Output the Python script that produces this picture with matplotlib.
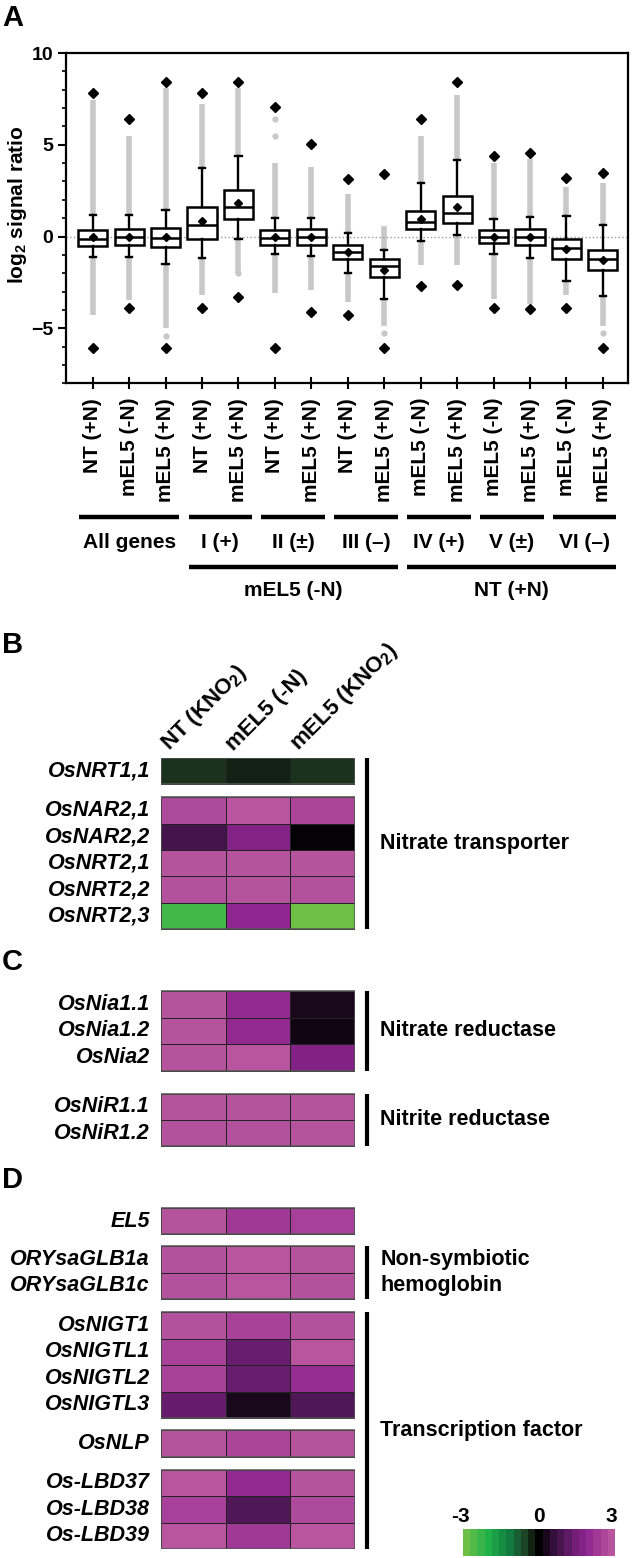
import numpy as np
import matplotlib
matplotlib.use("Agg")
from matplotlib import pyplot as plt
from matplotlib.colors import LinearSegmentedColormap, Normalize
from matplotlib.patches import Rectangle
from matplotlib.ticker import MultipleLocator
import matplotlib.transforms as mtransforms

plt.rcParams["font.family"] = "Liberation Sans"
plt.rcParams["font.weight"] = "bold"
plt.rcParams["mathtext.fontset"] = "custom"
plt.rcParams["mathtext.rm"] = "Liberation Sans:bold"
plt.rcParams["mathtext.bf"] = "Liberation Sans:bold"
plt.rcParams["mathtext.it"] = "Liberation Sans:bold:italic"

# ---- panel A data ----
box_labels = ["NT (+N)", "mEL5 (-N)", "mEL5 (+N)", "NT (+N)", "mEL5 (+N)",
              "NT (+N)", "mEL5 (+N)", "NT (+N)", "mEL5 (+N)", "mEL5 (-N)",
              "mEL5 (+N)", "mEL5 (-N)", "mEL5 (+N)", "mEL5 (-N)", "mEL5 (+N)"]
q1 = [-0.51, -0.45, -0.56, -0.16, 0.95, -0.45, -0.49, -1.22, -2.22, 0.40, 0.75, -0.38, -0.49, -1.24, -1.82]
med = [-0.13, -0.02, -0.06, 0.60, 1.60, -0.10, -0.05, -0.82, -1.60, 0.78, 1.27, -0.02, -0.02, -0.65, -1.22]
q3 = [0.37, 0.40, 0.49, 1.60, 2.51, 0.35, 0.42, -0.44, -1.25, 1.38, 2.18, 0.37, 0.42, -0.16, -0.73]
whislo = [-1.10, -1.10, -1.49, -1.15, -0.13, -0.96, -1.05, -2.00, -3.40, -0.22, 0.09, -0.94, -1.15, -2.45, -3.22]
whishi = [1.18, 1.18, 1.42, 3.76, 4.36, 1.00, 1.00, 0.18, -0.76, 2.91, 4.18, 0.93, 1.06, 1.13, 0.60]
means = [-0.05, 0.0, -0.05, 0.86, 1.82, -0.05, -0.05, -0.85, -1.82, 0.98, 1.60, -0.02, -0.02, -0.68, -1.29]
vmax = [7.82, 6.42, 8.42, 7.82, 8.42, 7.06, 5.02, 3.15, 3.38, 6.42, 8.42, 4.38, 4.56, 3.20, 3.47]
vmin = [-6.05, -3.90, -6.05, -3.87, -3.27, -6.05, -4.13, -4.27, -6.05, -2.69, -2.65, -3.89, -3.96, -3.89, -6.05]
# extent of the dense grey outlier streaks
gray_hi = [7.45, 5.5, 8.1, 7.2, 8.1, 4.0, 3.8, 2.3, 0.58, 5.5, 7.73, 4.0, 4.2, 2.7, 2.9]
gray_lo = [-4.3, -3.45, -5.0, -3.2, -2.0, -3.1, -2.9, -3.55, -4.9, -1.54, -1.54, -3.43, -3.7, -3.2, -4.9]
# a few isolated grey points
iso_pos = [6, 6, 3, 9, 15, 5]
iso_val = [5.45, 6.4, -5.4, -5.27, -5.27, -2.0]

group_names = ["All genes", "I (+)", "II (\u00b1)", "III (\u2013)", "IV (+)", "V (\u00b1)", "VI (\u2013)"]
group_spans = [(1, 3), (4, 5), (6, 7), (8, 9), (10, 11), (12, 13), (14, 15)]
super_names = ["mEL5 (-N)", "NT (+N)"]
super_spans = [(4, 9), (10, 15)]

# ---- panels B-D data ----
col_labels = ["NT (KNO$_\\mathbf{2}$)", "mEL5 (-N)", "mEL5 (KNO$_\\mathbf{2}$)"]

genes_b1 = ["OsNRT1,1"]
vals_b1 = [[-0.42, -0.28, -0.40]]
genes_b2 = ["OsNAR2,1", "OsNAR2,2", "OsNRT2,1", "OsNRT2,2", "OsNRT2,3"]
vals_b2 = [[2.75, 3.0, 2.65], [0.85, 1.8, 0.05], [2.95, 2.95, 2.95], [2.9, 2.95, 2.9], [-2.5, 2.0, -3.0]]
genes_c1 = ["OsNia1.1", "OsNia1.2", "OsNia2"]
vals_c1 = [[2.95, 2.05, 0.3], [2.95, 2.05, 0.2], [2.95, 3.0, 1.75]]
genes_c2 = ["OsNiR1.1", "OsNiR1.2"]
vals_c2 = [[2.95, 2.95, 2.95], [2.9, 2.9, 2.95]]
genes_d1 = ["EL5"]
vals_d1 = [[2.95, 2.4, 2.55]]
genes_d2 = ["ORYsaGLB1a", "ORYsaGLB1c"]
vals_d2 = [[2.9, 3.0, 2.95], [2.9, 3.0, 2.9]]
genes_d3 = ["OsNIGT1", "OsNIGTL1", "OsNIGTL2", "OsNIGTL3"]
vals_d3 = [[2.9, 2.6, 2.9], [2.6, 1.35, 3.0], [2.6, 1.35, 2.15], [1.3, 0.3, 1.0]]
genes_d4 = ["OsNLP"]
vals_d4 = [[2.95, 2.65, 2.95]]
genes_d5 = ["Os-LBD37", "Os-LBD38", "Os-LBD39"]
vals_d5 = [[3.0, 2.05, 2.95], [2.55, 1.0, 2.75], [3.0, 2.4, 3.0]]

blocks = [(genes_b1, vals_b1), (genes_b2, vals_b2), (genes_c1, vals_c1), (genes_c2, vals_c2),
          (genes_d1, vals_d1), (genes_d2, vals_d2), (genes_d3, vals_d3), (genes_d4, vals_d4),
          (genes_d5, vals_d5)]
# gap (in rows) before each block
block_gaps = [0, 0.48, 2.35, 0.87, 2.33, 0.45, 0.5, 0.46, 0.5]

bracket_names = ["Nitrate transporter", "Nitrate reductase", "Nitrite reductase",
                 "Non-symbiotic\nhemoglobin", "Transcription factor"]
bracket_blocks = [(0, 1), (2, 2), (3, 3), (5, 5), (6, 8)]

cbar_ticks = [-3, 0, 3]

W, H = 638, 1558
fig = plt.figure(figsize=(W / 100, H / 100), dpi=100)


def box(l, t, r, b):
    return [l / W, 1 - b / H, (r - l) / W, (b - t) / H]


# ================= panel A =================
ax = fig.add_axes(box(65.7, 53, 627.7, 383.3))
pos = np.arange(1, len(box_labels) + 1)

ax.vlines(pos, whishi, gray_hi, color="#c8c8c8", lw=4, zorder=1)
ax.vlines(pos, gray_lo, whislo, color="#c8c8c8", lw=4, zorder=1)
ax.plot(iso_pos, iso_val, "o", color="#c8c8c8", ms=3.5, zorder=1)
ax.axhline(0, color="#9a9a9a", ls=":", lw=1, zorder=1.5)

stats = []
for i in range(len(pos)):
    stats.append(dict(med=med[i], q1=q1[i], q3=q3[i], whislo=whislo[i],
                      whishi=whishi[i], mean=means[i], fliers=[]))
ax.bxp(stats, positions=pos, widths=0.8, showmeans=True, showfliers=False,
       patch_artist=True, capwidths=0.17,
       boxprops=dict(facecolor="white", edgecolor="black", linewidth=1.8),
       medianprops=dict(color="black", linewidth=1.8),
       whiskerprops=dict(color="black", linewidth=1.7),
       capprops=dict(color="black", linewidth=1.7),
       meanprops=dict(marker="D", markerfacecolor="black", markeredgecolor="black", markersize=4))
ax.plot(pos, vmax, "D", color="black", ms=5, zorder=4)
ax.plot(pos, vmin, "D", color="black", ms=5, zorder=4)

ax.set_xlim(0.26, 15.68)
ax.set_ylim(-8, 10)
ax.set_yticks([-5, 0, 5, 10])
ax.yaxis.set_minor_locator(MultipleLocator(1))
ax.tick_params(axis="y", which="major", length=6, width=1.5, labelsize=14, pad=3)
ax.tick_params(axis="y", which="minor", length=3, width=1.2)
ax.set_xticks(pos)
ax.set_xticklabels(box_labels, rotation=90, fontsize=15, fontweight="bold")
ax.tick_params(axis="x", direction="inout", length=9, width=1.5, pad=6)
for s in ax.spines.values():
    s.set_linewidth(1.6)
ax.set_ylabel("log$_\\mathbf{2}$ signal ratio", fontsize=15, fontweight="bold")
ax.yaxis.set_label_coords(-0.066, 0.54)

trans = mtransforms.blended_transform_factory(ax.transData, ax.transAxes)
for name, (a, b) in zip(group_names, group_spans):
    ax.plot([a - 0.37, b + 0.37], [-0.405, -0.405], color="black", lw=3.2,
            transform=trans, clip_on=False, solid_capstyle="butt")
    ax.text((a + b) / 2, -0.482, name, transform=trans, ha="center", va="center",
            fontsize=15, fontweight="bold")
for name, (a, b) in zip(super_names, super_spans):
    ax.plot([a - 0.37, b + 0.37], [-0.557, -0.557], color="black", lw=3.2,
            transform=trans, clip_on=False, solid_capstyle="butt")
    ax.text((a + b) / 2, -0.627, name, transform=trans, ha="center", va="center",
            fontsize=15, fontweight="bold")

# ================= panels B-D =================
cmap = LinearSegmentedColormap.from_list("gm", [
    (0.0, "#6dbf46"), (0.15, "#1fb04b"), (0.3, "#137a3f"), (0.42, "#1f3a22"),
    (0.5, "#000000"), (0.6, "#33103a"), (0.73, "#6b1d70"), (0.83, "#8e2590"),
    (1.0, "#b8559e")])
norm = Normalize(-3, 3)

total_rows = sum(len(g) for g, _ in blocks) + sum(block_gaps)
hx = fig.add_axes(box(161, 758, 354.5, 1549))
hx.set_xlim(0, 3)
hx.set_ylim(total_rows, 0)
hx.axis("off")

tops, bottoms = [], []
cur = 0
for (genes, vals), gap in zip(blocks, block_gaps):
    top = cur + gap
    n = len(genes)
    hx.pcolormesh(np.arange(4), top + np.arange(n + 1), np.array(vals), cmap=cmap, norm=norm,
                  edgecolors="#222222", linewidth=0.6)
    hx.add_patch(Rectangle((0, top), 3, n, fill=False, edgecolor="#555555", lw=1.1))
    tops.append(top)
    bottoms.append(top + n)
    for k, g in enumerate(genes):
        hx.text(-0.17, top + k + 0.5, g, ha="right", va="center", fontsize=15.5,
                fontweight="bold", fontstyle="italic")
    cur = top + n

for j, lab in enumerate(col_labels):
    hx.text(j + 0.13, -0.25, lab, rotation=45, rotation_mode="anchor", ha="left",
            va="baseline", fontsize=16, fontweight="bold")

for name, (a, b) in zip(bracket_names, bracket_blocks):
    hx.plot([3.19, 3.19], [tops[a], bottoms[b]], color="black", lw=3, clip_on=False,
            solid_capstyle="butt")
    hx.text(3.4, (tops[a] + bottoms[b]) / 2, name, ha="left", va="center",
            fontsize=15.5, fontweight="bold", linespacing=1.3)

# colour key
cx = fig.add_axes(box(463, 1529, 615, 1556))
steps = np.linspace(-3, 3, 21)
cx.imshow(steps.reshape(1, -1), cmap=cmap, norm=norm, aspect="auto", extent=(-3.15, 3.15, 0, 1))
cx.set_xlim(-3.15, 3.15)
cx.axis("off")
for t in cbar_ticks:
    cx.text(t - 0.25 if t < 0 else t, 1.45, str(t), ha="center", va="center",
            fontsize=15, fontweight="bold")

# panel letters
for letter, y in zip(["A", "B", "C", "D"], [18, 645, 962, 1180]):
    fig.text(2 / W, 1 - y / H, letter, ha="left", va="center", fontsize=21, fontweight="bold")

fig.savefig("out.png", dpi=100)
